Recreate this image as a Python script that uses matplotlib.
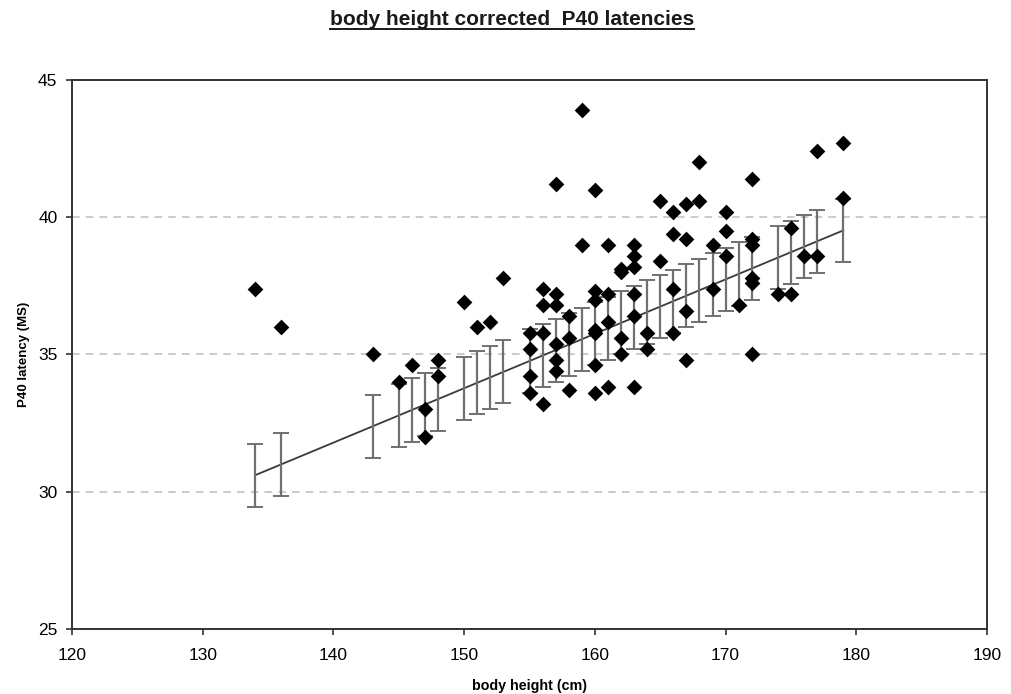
import matplotlib
matplotlib.use("Agg")
import matplotlib.pyplot as plt
from matplotlib.lines import Line2D
import numpy as np

plt.rcParams['font.family'] = ['Liberation Sans', 'DejaVu Sans']

# scatter data: body height (cm) and P40 latency (ms)
height = [134, 136, 143, 145, 146, 147, 147, 148, 148, 150, 151, 152, 153,
          155, 155, 155, 155,
          156, 156, 156, 156,
          157, 157, 157, 157, 157, 157,
          158, 158, 158,
          159, 159,
          160, 160, 160, 160, 160, 160, 160,
          161, 161, 161, 161,
          162, 162, 162, 162,
          163, 163, 163, 163, 163, 163,
          164, 164,
          165, 165,
          166, 166, 166, 166,
          167, 167, 167, 167,
          168, 168,
          169, 169,
          170, 170, 170,
          171,
          172, 172, 172, 172, 172, 172,
          174, 175, 175,
          176, 177, 177,
          179, 179]
latency = [37.4, 36.0, 35.0, 34.0, 34.6, 33.0, 32.0, 34.8, 34.2, 36.9, 36.0, 36.2, 37.8,
           35.8, 35.2, 34.2, 33.6,
           37.4, 36.8, 35.8, 33.2,
           41.2, 37.2, 36.8, 35.4, 34.8, 34.4,
           36.4, 35.6, 33.7,
           43.9, 39.0,
           41.0, 37.3, 37.0, 35.9, 35.8, 34.6, 33.6,
           39.0, 37.2, 36.2, 33.8,
           38.1, 38.0, 35.6, 35.0,
           39.0, 38.6, 38.2, 37.2, 36.4, 33.8,
           35.8, 35.2,
           40.6, 38.4,
           40.2, 39.4, 37.4, 35.8,
           40.5, 39.2, 36.6, 34.8,
           42.0, 40.6,
           39.0, 37.4,
           40.2, 39.5, 38.6,
           36.8,
           41.4, 39.2, 39.0, 37.8, 37.6, 35.0,
           37.2, 39.6, 37.2,
           38.6, 42.4, 38.6,
           42.7, 40.7]

# regression line (endpoints) and error half-width
fit_x = [134, 179]
fit_y = [30.6, 39.52]
err_half = 1.15

title = "body height corrected  P40 latencies"
xlabel = "body height (cm)"
ylabel = "P40 latency (MS)"
xticks = [120, 130, 140, 150, 160, 170, 180, 190]
yticks = [25, 30, 35, 40, 45]

fig = plt.figure(figsize=(10.11, 6.94), dpi=100)
ax = fig.add_axes([72/1011, 1-629/694, 915/1011, 549/694])

# regression line
ax.plot(fit_x, fit_y, color='#3a3a3a', lw=1.3, zorder=2)

# error bars at each distinct height, centred on the regression line
ux = np.unique(height)
slope = (fit_y[1]-fit_y[0])/(fit_x[1]-fit_x[0])
uy = fit_y[0] + slope*(ux - fit_x[0])
ax.errorbar(ux, uy, yerr=err_half, fmt='none', ecolor='#707070',
            elinewidth=1.6, capsize=6, capthick=1.4, zorder=2)

ax.scatter(height, latency, marker='D', s=64, color='black', zorder=3,
           linewidths=0)

ax.set_xlim(120, 190)
ax.set_ylim(25, 45)
ax.set_xticks(xticks)
ax.set_yticks(yticks)
ax.tick_params(direction='out', length=4, width=1.2, color='#333333',
               labelsize=12.5)
ax.tick_params(axis='x', pad=10)
ax.tick_params(axis='y', pad=6.5)
for s in ax.spines.values():
    s.set_color('#333333')
    s.set_linewidth(1.4)

for g in [30, 35, 40]:
    ax.axhline(g, color='#bdbdbd', lw=1.1, ls=(0, (5, 4)), zorder=1)

ax.set_xlabel(xlabel, fontsize=10.3, fontweight='bold', labelpad=11.5)
ax.set_ylabel(ylabel, fontsize=9.5, fontweight='bold', labelpad=6)

t = fig.text(512/1011, 1-25/694, title, ha='center', va='baseline',
             fontsize=15, fontweight='bold', color='#1a1a1a')
fig.canvas.draw()
bb = t.get_window_extent(renderer=fig.canvas.get_renderer())
bbf = bb.transformed(fig.transFigure.inverted())
uy_ = 1-29/694
fig.add_artist(Line2D([bbf.x0, bbf.x1], [uy_, uy_], transform=fig.transFigure,
                      color='#1a1a1a', lw=1.4))

fig.savefig("out.png", dpi=100)
